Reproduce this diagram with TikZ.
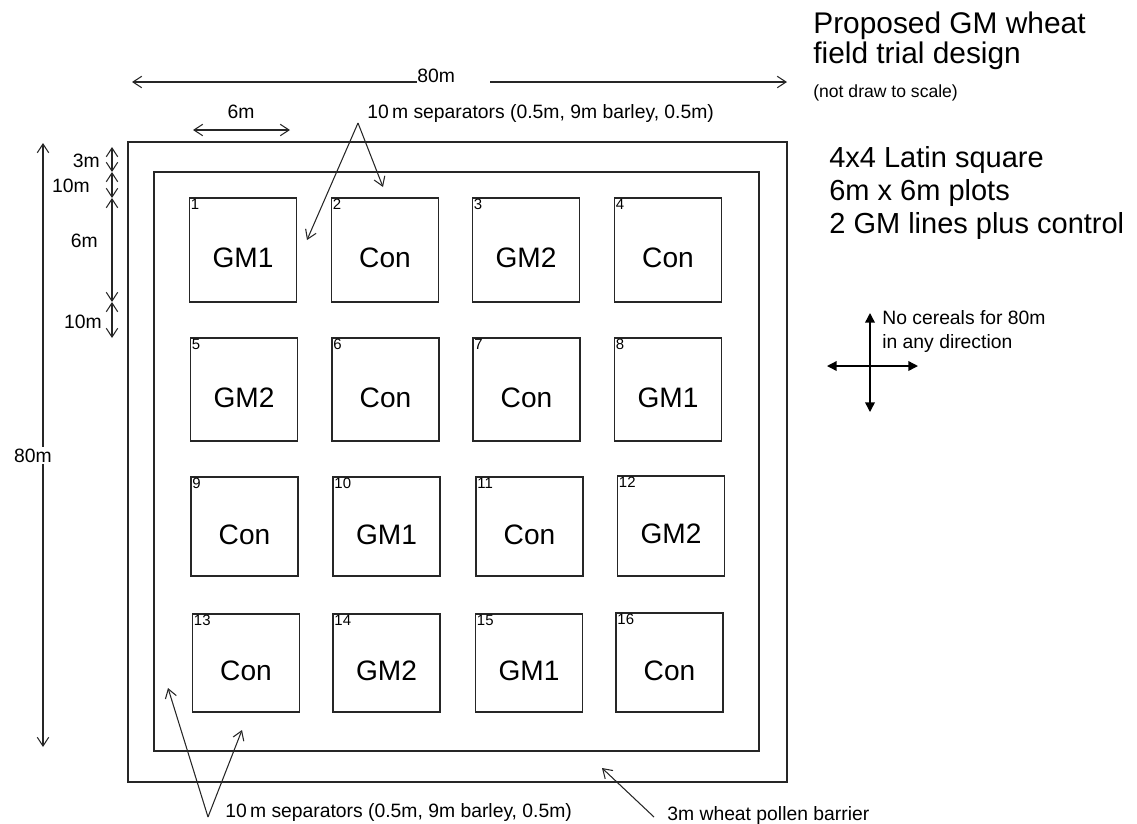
\documentclass[tikz,border=0pt]{standalone}
\usepackage{fontspec}
\setmainfont{Liberation Sans}
\usetikzlibrary{arrows.meta}

\begin{document}
\begin{tikzpicture}[x=0.02cm,y=-0.02cm,
    field/.style={draw=black!85,line width=0.75pt},
    dim/.style={draw=black!85,line width=0.6pt,
        {Straight Barb[length=5pt,width=6.5pt]}-{Straight Barb[length=5pt,width=6.5pt]}},
    pointer/.style={draw=black!85,line width=0.6pt,-{Straight Barb[length=5pt,width=6.5pt]}},
    cross/.style={draw=black,line width=0.8pt,
        {Triangle[length=5.5pt,width=5.5pt]}-{Triangle[length=5.5pt,width=5.5pt]}},
    plot/.style={draw=black!85,line width=0.75pt,minimum width=2.14cm,inner sep=0pt,
        text height=20pt,text depth=0pt,font=\fontsize{16}{18}\selectfont},
    num/.style={anchor=north west,inner sep=1pt,font=\fontsize{8.5}{9}\selectfont},
    small/.style={inner sep=0pt,font=\fontsize{11}{13.5}\selectfont}]

\useasboundingbox (0,0) rectangle (1137,823);

% Pollen barrier and separator border
\draw[field] (128,142) rectangle (787,782);
\draw[field] (154,172) rectangle (759,751);

% Latin square plots
\foreach \n/\cx/\cy/\h/\lab in {
    1/243/250/2.08/GM1, 2/385/250/2.08/Con, 3/526/250/2.08/GM2, 4/668/250/2.08/Con,
    5/244/389.5/2.06/GM2, 6/385.5/389.5/2.06/Con, 7/526.5/389.5/2.06/Con, 8/668/389.5/2.06/GM1,
    9/244.5/526.5/1.98/Con, 10/386.5/526.5/1.98/GM1, 11/529.5/526.5/1.98/Con, 12/671/526/2.0/GM2,
    13/246/663/1.96/Con, 14/386.5/663/1.96/GM2, 15/529/663/1.96/GM1, 16/669.5/662.5/1.98/Con}
{
    \node[plot,minimum height=\h cm] (p\n) at (\cx,\cy) {\lab};
    \node[num] (n\n) at (p\n.north west) {\n};
}

% Overall width
\coordinate (wl) at (132,82);
\coordinate (wr) at (787,82);
\node[small,anchor=base west] (width) at (417,82) {80m};
\draw[pointer] (width.base west) -- (wl);
\draw[pointer] ([xshift=20]width.base east) -- (wr);

% Overall height
\coordinate (ht) at (43,143);
\coordinate (hb) at (43,747);
\draw[dim] (ht) -- (hb);
\node[small,anchor=base west,fill=white,inner sep=1pt] (height) at (12,462) {80m};

% Plot width
\coordinate (pw1) at (193,130);
\coordinate (pw2) at (290,130);
\draw[dim] (pw1) -- (pw2);
\node[small,anchor=base] (plotw) at (241,118) {6m};

% Spacing down the left side
\coordinate (d0) at (112,147);
\coordinate (d1) at (112,172);
\coordinate (d2) at (112,198);
\coordinate (d3) at (112,302);
\coordinate (d4) at (112,338);
\draw[dim] (d0) -- (d1);
\draw[dim] (d1) -- (d2);
\draw[dim] (d2) -- (d3);
\draw[dim] (d3) -- (d4);
\node[small,anchor=base east] (g1) at (100,167) {3m};
\node[small,anchor=base east] (g2) at (90,192) {10m};
\node[small,anchor=base east] (g3) at (98,247) {6m};
\node[small,anchor=base east] (g4) at (102,328) {10m};

% Separators, top
\node[small,anchor=base west] (septop) at (367,118) {10\,m separators (0.5m, 9m barley, 0.5m)};
\coordinate (s0) at (358,123);
\coordinate (sa) at (307,240);
\coordinate (sb) at (383,187);
\draw[pointer] (s0) -- (sa);
\draw[pointer] (s0) -- (sb);

% Separators, bottom
\node[small,anchor=base west] (sepbot) at (225,817) {10\,m separators (0.5m, 9m barley, 0.5m)};
\coordinate (b0) at (208,817);
\coordinate (ba) at (168,688);
\coordinate (bb) at (242,730);
\draw[pointer] (b0) -- (ba);
\draw[pointer] (b0) -- (bb);

% Pollen barrier
\node[small,anchor=base west] (barrier) at (667,820) {3m wheat pollen barrier};
\coordinate (bt) at (602,768);
\draw[pointer] (654,817) -- (bt);

% Title and design notes (base = last line)
\node[inner sep=0pt,anchor=base west,align=left,font=\fontsize{17}{15.5}\selectfont]
    (title) at (813,63) {Proposed GM wheat\\field trial design};
\node[inner sep=0pt,anchor=base west,font=\fontsize{10}{12}\selectfont]
    (scale) at (813,97) {(not draw to scale)};
\node[inner sep=0pt,anchor=base west,align=left,font=\fontsize{16.5}{18.7}\selectfont]
    (design) at (829,233) {4x4 Latin square\\6m x 6m plots\\2 GM lines plus control};

% No cereals around
\coordinate (cn) at (870,313);
\coordinate (cs) at (870,412);
\coordinate (cw) at (827,366);
\coordinate (ce) at (918,366);
\draw[cross] (cn) -- (cs);
\draw[cross] (cw) -- (ce);
\node[small,anchor=base west,align=left] (cereal) at (882,348) {No cereals for 80m\\in any direction};

\end{tikzpicture}
\end{document}
